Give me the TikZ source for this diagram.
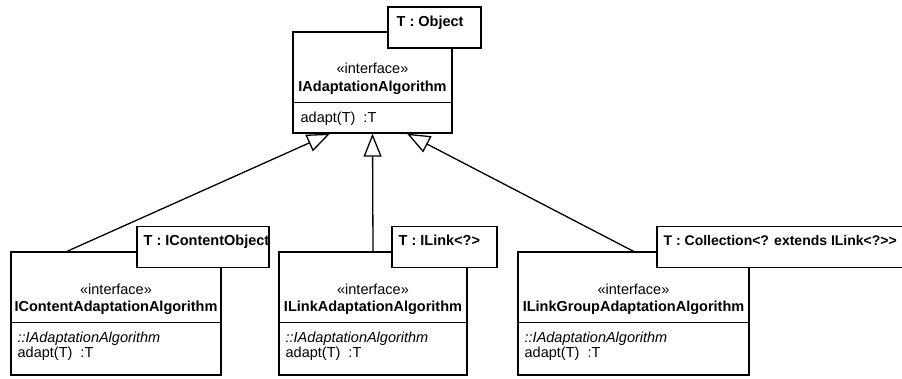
\documentclass[tikz,border=0pt]{standalone}
\usepackage{fontspec}
\setmainfont{Liberation Sans}
\usetikzlibrary{arrows.meta,calc}

\begin{document}
\begin{tikzpicture}[x=1pt,y=-1pt,line width=1.3pt,font=\fontsize{14.5}{16}\selectfont,
  cls/.style={draw,fill=white,inner sep=0pt,minimum height=123pt},
  tmpl/.style={draw,fill=white,inner sep=0pt,minimum height=41pt},
  gen/.style={-{Triangle[open,length=23pt,width=18pt]}}]
\useasboundingbox (0,0) rectangle (902,378);
\node[cls,minimum width=159pt,minimum height=101pt] (base) at (372.5,82.5) {};
\draw ($(base.north west)+(0,71)$) -- ($(base.north east)+(0,71)$);
\node[anchor=base] (basest) at (372.5,73) {«interface»};
\node[anchor=base] (basenm) at (372.5,91) {\bfseries IAdaptationAlgorithm};
\node[anchor=base west,inner sep=0pt] (baseop) at (300,122) {adapt(T)\ \ :T};
\node[tmpl,minimum width=93pt] (baset) at (434.5,27.5) {};
\node[anchor=base west,inner sep=0pt] (basetx) at (396,26) {\bfseries T : Object};

\node[cls,minimum width=210pt] (cont) at (116,313.5) {};
\draw ($(cont.north west)+(0,71)$) -- ($(cont.north east)+(0,71)$);
\node[anchor=base] (contst) at (116,294) {«interface»};
\node[anchor=base] (contnm) at (116,311) {\bfseries IContentAdaptationAlgorithm};
\node[anchor=base west,inner sep=0pt] (contin) at (17,342) {\itshape ::IAdaptationAlgorithm};
\node[anchor=base west,inner sep=0pt] (contop) at (17,357) {adapt(T)\ \ :T};
\node[tmpl,minimum width=132pt] (contt) at (203,247) {};
\node[anchor=base west,inner sep=0pt] (conttx) at (143,245) {\bfseries T : IContentObject};

\node[cls,minimum width=188pt] (link) at (373,313.5) {};
\draw ($(link.north west)+(0,71)$) -- ($(link.north east)+(0,71)$);
\node[anchor=base] (linkst) at (373,294) {«interface»};
\node[anchor=base] (linknm) at (373,311) {\bfseries ILinkAdaptationAlgorithm};
\node[anchor=base west,inner sep=0pt] (linkin) at (285,342) {\itshape ::IAdaptationAlgorithm};
\node[anchor=base west,inner sep=0pt] (linkop) at (285,357) {adapt(T)\ \ :T};
\node[tmpl,minimum width=105pt] (linkt) at (444.5,247) {};
\node[anchor=base west,inner sep=0pt] (linktx) at (398,245) {\bfseries T : ILink<?>};

\node[cls,minimum width=231pt] (group) at (633.5,313.5) {};
\draw ($(group.north west)+(0,71)$) -- ($(group.north east)+(0,71)$);
\node[anchor=base] (groupst) at (633.5,294) {«interface»};
\node[anchor=base] (groupnm) at (633.5,311) {\bfseries ILinkGroupAdaptationAlgorithm};
\node[anchor=base west,inner sep=0pt] (groupin) at (524,342) {\itshape ::IAdaptationAlgorithm};
\node[anchor=base west,inner sep=0pt] (groupop) at (524,357) {adapt(T)\ \ :T};
\node[tmpl,minimum width=256pt] (groupt) at (785,247) {};
\node[anchor=base west,inner sep=0pt,font=\fontsize{14}{16}\selectfont] (grouptx) at (663,245) {\bfseries T : Collection<? extends ILink<?>{}>};

\draw[gen] ($(cont.north)+(-49,0)$) -- ($(base.south)+(-42.5,0)$);
\draw[gen] (link.north) -- (base.south);
\draw[gen] (group.north) -- ($(base.south)+(34.5,0)$);
\end{tikzpicture}
\end{document}
